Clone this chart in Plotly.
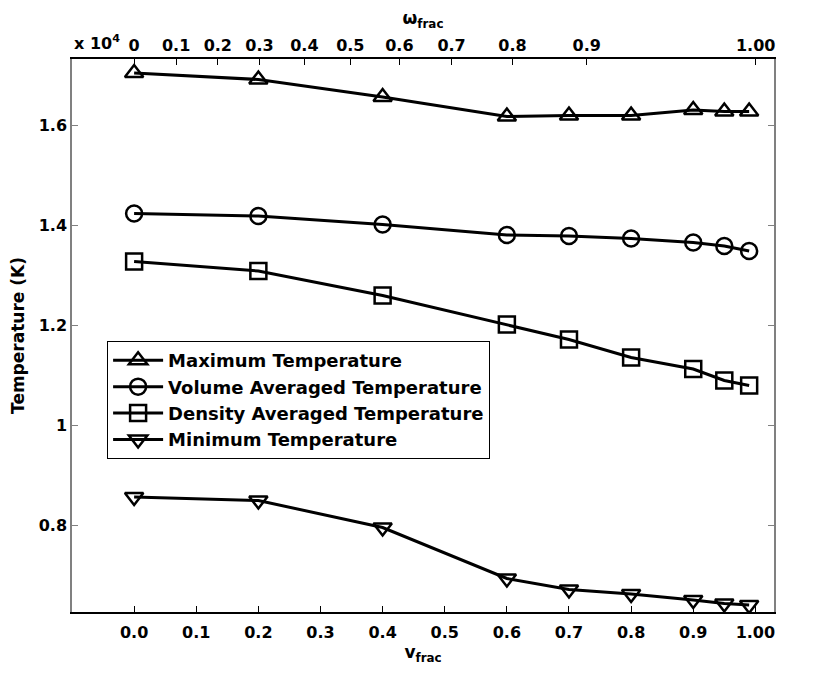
import plotly.graph_objects as go

# x positions (volume fraction)
v_frac = [0.0, 0.2, 0.4, 0.6, 0.7, 0.8, 0.9, 0.95, 0.99]

# temperatures in K
max_temp = [17040, 16910, 16560, 16170, 16190, 16190, 16300, 16270, 16270]
vol_avg_temp = [14230, 14180, 14010, 13800, 13780, 13730, 13650, 13580, 13480]
dens_avg_temp = [13270, 13080, 12590, 12010, 11710, 11350, 11120, 10890, 10790]
min_temp = [8560, 8490, 7950, 6930, 6710, 6620, 6500, 6430, 6400]

# bottom axis ticks
bottom_tickvals = [0.0, 0.1, 0.2, 0.3, 0.4, 0.5, 0.6, 0.7, 0.8, 0.9, 1.0]
bottom_ticktext = ["0.0", "0.1", "0.2", "0.3", "0.4", "0.5", "0.6", "0.7", "0.8", "0.9", "1.00"]

# top axis (omega_frac) ticks, positions given on the v_frac scale
top_tickvals = [0.0, 0.0676, 0.1347, 0.2017, 0.274, 0.348, 0.427, 0.511, 0.609, 0.7285, 1.0005]
top_ticktext = ["0", "0.1", "0.2", "0.3", "0.4", "0.5", "0.6", "0.7", "0.8", "0.9", "1.00"]

# y ticks
y_tickvals = [8000, 10000, 12000, 14000, 16000]
y_ticktext = ["0.8", "1", "1.2", "1.4", "1.6"]

series = [
    ("Maximum Temperature", max_temp, "triangle-up-open"),
    ("Volume Averaged Temperature", vol_avg_temp, "circle-open"),
    ("Density Averaged Temperature", dens_avg_temp, "square-open"),
    ("Minimum Temperature", min_temp, "triangle-down-open"),
]

FAM = "DejaVu Sans, Liberation Sans, Arial, sans-serif"

fig = go.Figure()
for name, vals, sym in series:
    fig.add_trace(go.Scatter(
        x=v_frac, y=vals, name=name, mode="lines+markers",
        line=dict(color="black", width=3),
        marker=dict(symbol=sym, size=16, color="black", line=dict(width=2.5, color="black")),
    ))

# invisible trace to activate top axis
fig.add_trace(go.Scatter(x=[v_frac[0]], y=[max_temp[0]], xaxis="x2", mode="markers",
                         marker=dict(opacity=0), showlegend=False, hoverinfo="skip"))

fig.update_layout(
    width=830, height=676,
    margin=dict(l=64, r=64, t=51, b=72, autoexpand=False),
    paper_bgcolor="white", plot_bgcolor="white",
    font=dict(family=FAM, size=16, color="black", weight="bold"),
    showlegend=True,
    legend=dict(x=0.05, y=0.49, xanchor="left", yanchor="top",
                bordercolor="black", borderwidth=1, bgcolor="white",
                font=dict(family=FAM, size=18, color="black", weight="bold"),
                tracegroupgap=0, itemwidth=50),
    xaxis=dict(
        range=[-0.1, 1.03], tickvals=bottom_tickvals, ticktext=bottom_ticktext,
        ticks="inside", ticklen=6, tickcolor="black", tickwidth=1,
        showline=True, linecolor="black", linewidth=1.5, mirror=False,
        showgrid=False, zeroline=False, automargin=False, ticklabelstandoff=5,
        title=dict(text="v<sub>frac</sub>", standoff=4, font=dict(size=17)),
    ),
    xaxis2=dict(
        overlaying="x", matches="x", side="top",
        range=[-0.1, 1.03], tickvals=top_tickvals, ticktext=top_ticktext,
        ticks="inside", ticklen=6, tickcolor="black", tickwidth=1,
        showline=True, linecolor="black", linewidth=1.5,
        showgrid=False, zeroline=False, automargin=False, ticklabelstandoff=0,
        title=dict(text="ω<sub>frac</sub>", standoff=10, font=dict(size=17)),
    ),
    yaxis=dict(
        range=[6260, 17320], tickvals=y_tickvals, ticktext=y_ticktext,
        ticks="inside", ticklen=6, tickcolor="#808080", tickwidth=1,
        showline=True, linecolor="#808080", linewidth=1.5, mirror="ticks",
        showgrid=False, zeroline=False, automargin=False,
        title=dict(text="Temperature (K)", standoff=10, font=dict(size=17)),
    ),
    annotations=[
        dict(text="x 10<sup>4</sup>", xref="paper", yref="paper", x=0.0, y=1.0,
             xanchor="left", yanchor="bottom", yshift=4, showarrow=False,
             font=dict(family=FAM, size=16, color="black", weight="bold")),
    ],
)

fig.write_html("out.html")
